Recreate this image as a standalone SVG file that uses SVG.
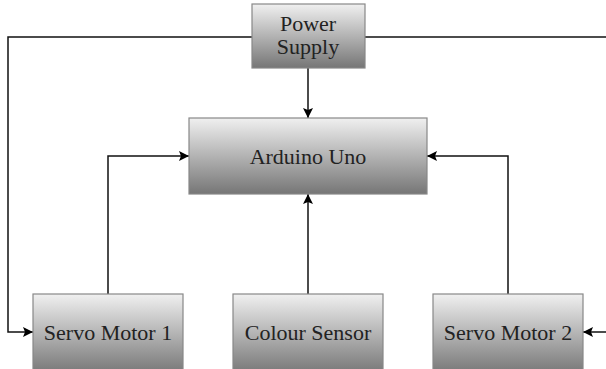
<svg xmlns="http://www.w3.org/2000/svg" width="606" height="369" viewBox="0 0 606 369">
<defs>
<linearGradient id="g" x1="0" y1="0" x2="0" y2="1">
<stop offset="0" stop-color="#f0f0f0"/>
<stop offset="1" stop-color="#767676"/>
</linearGradient>
<marker id="a" viewBox="0 0 10 10" refX="10" refY="5" markerWidth="10" markerHeight="10" markerUnits="userSpaceOnUse" orient="auto">
<path d="M0,0 L10,5 L0,10 L2,5 Z" fill="#000"/>
</marker>
<style>
.box{fill:url(#g);stroke:#888;stroke-width:1.2}
.t{font-family:"Liberation Serif","Times New Roman",serif;font-size:22px;fill:#222;text-anchor:middle}
.c{fill:none;stroke:#111;stroke-width:1.5}
</style>
</defs>
<rect width="606" height="369" fill="#fff"/>
<g id="connectors">
<path class="c" d="M252,37 H8 V332 H33" marker-end="url(#a)"/>
<path class="c" d="M365,37 H606"/>
<path class="c" d="M606,332 H583" marker-end="url(#a)"/>
<path class="c" d="M308,68 V118" marker-end="url(#a)"/>
<path class="c" d="M108,294 V156 H189" marker-end="url(#a)"/>
<path class="c" d="M308,294 V194" marker-end="url(#a)"/>
<path class="c" d="M508,294 V156 H427" marker-end="url(#a)"/>
</g>
<g id="power-supply">
<rect class="box" x="252" y="4" width="113" height="64"/>
<text class="t" x="308" y="31">Power</text>
<text class="t" x="308" y="54">Supply</text>
</g>
<g id="arduino-uno">
<rect class="box" x="189" y="118" width="238" height="76"/>
<text class="t" x="308" y="164">Arduino Uno</text>
</g>
<g id="servo-motor-1">
<rect class="box" x="33" y="294" width="150" height="80"/>
<text class="t" x="108" y="340">Servo Motor 1</text>
</g>
<g id="colour-sensor">
<rect class="box" x="233" y="294" width="150" height="80"/>
<text class="t" x="308" y="340">Colour Sensor</text>
</g>
<g id="servo-motor-2">
<rect class="box" x="433" y="294" width="150" height="80"/>
<text class="t" x="508" y="340">Servo Motor 2</text>
</g>
</svg>
